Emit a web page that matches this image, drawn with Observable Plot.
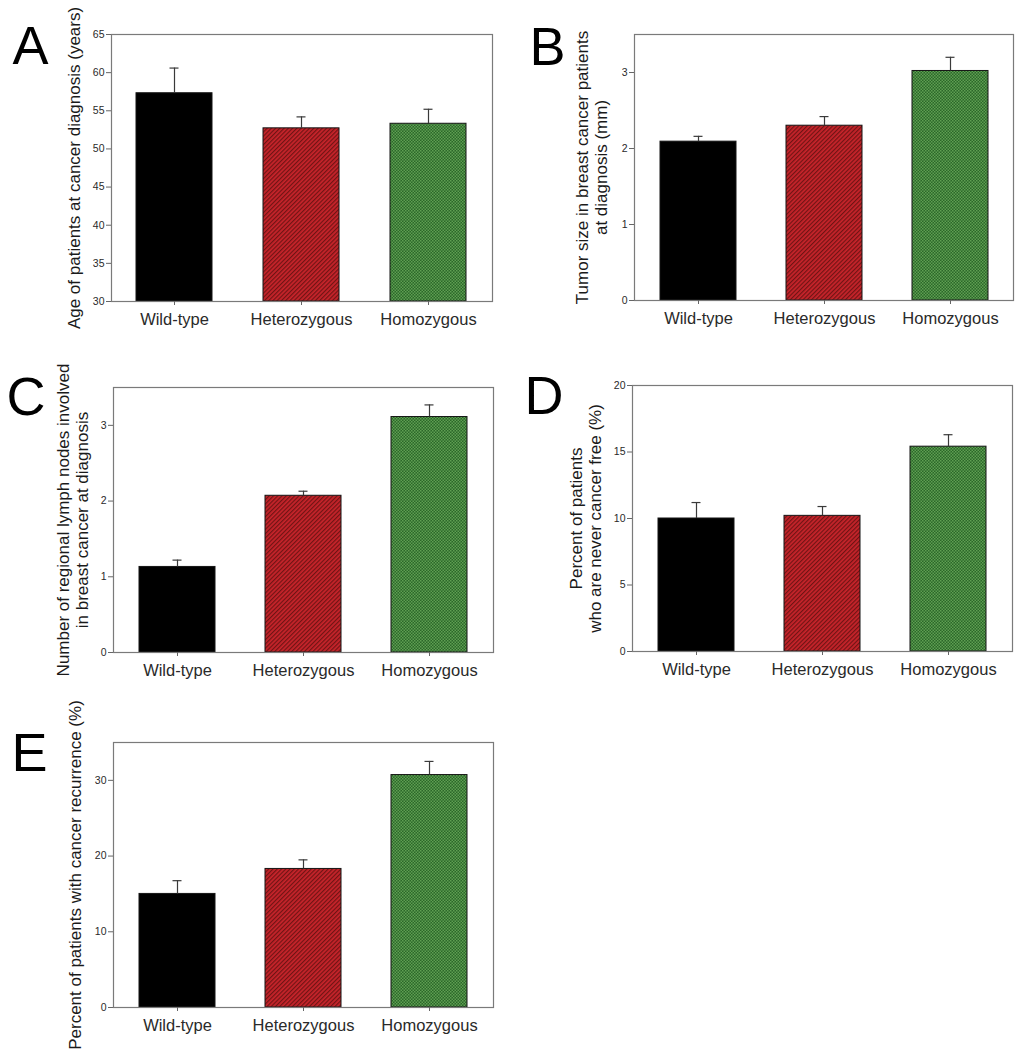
<!DOCTYPE html>
<html><head><meta charset="utf-8">
<script src="https://cdn.jsdelivr.net/npm/d3@7"></script>
<script src="https://cdn.jsdelivr.net/npm/@observablehq/plot@0.6"></script>
<style>
body{margin:0;background:#fff;font-family:"Liberation Sans",Arial,sans-serif}
#fig{position:relative;width:1016px;height:1050px;overflow:hidden}
.panel{position:absolute}
</style></head><body>
<svg width="0" height="0" style="position:absolute">
<defs>
<pattern id="hatchRed" width="3" height="3" patternUnits="userSpaceOnUse" patternTransform="rotate(45)">
<rect width="3" height="3" fill="#c8242b"/>
<rect width="1.2" height="3" fill="#701414"/>
</pattern>
<pattern id="checkGreen" width="3" height="3" patternUnits="userSpaceOnUse">
<rect width="3" height="3" fill="#2b6729"/>
<rect width="1.5" height="1.5" fill="#5f9f52"/>
<rect x="1.5" y="1.5" width="1.5" height="1.5" fill="#5f9f52"/>
</pattern>
</defs></svg>
<div id="fig"></div>
<script>
const categories = ["Wild-type", "Heterozygous", "Homozygous"];

const ageMean = [57.3, 52.7, 53.3];
const ageSem = [3.3, 1.5, 1.9];
const ageTicks = [30, 35, 40, 45, 50, 55, 60, 65];

const tumorMean = [2.09, 2.30, 3.02];
const tumorSem = [0.07, 0.12, 0.18];
const tumorTicks = [0, 1, 2, 3];

const nodesMean = [1.13, 2.07, 3.11];
const nodesSem = [0.09, 0.06, 0.16];
const nodesTicks = [0, 1, 2, 3];

const neverFreeMean = [10.0, 10.2, 15.4];
const neverFreeSem = [1.2, 0.7, 0.9];
const neverFreeTicks = [0, 5, 10, 15, 20];

const recurMean = [15.0, 18.3, 30.7];
const recurSem = [1.75, 1.2, 1.8];
const recurTicks = [0, 10, 20, 30];

const fills = ["#000000", "url(#hatchRed)", "url(#checkGreen)"];

const panels = [
  {letter: "A", mean: ageMean, sem: ageSem, domain: [30, 65], ticks: ageTicks,
   label: "Age of patients at cancer diagnosis (years)",
   pos: [0, 0], m: {top: 34, right: 16, bottom: 49, left: 111}, labelDx: -38, letterDx: -99, letterDy: 12.5},
  {letter: "B", mean: tumorMean, sem: tumorSem, domain: [0, 3.5], ticks: tumorTicks,
   label: "Tumor size in breast cancer patients\nat diagnosis (mm)",
   pos: [508, 0], m: {top: 34, right: 3, bottom: 50, left: 126}, labelDx: -43, letterDx: -105, letterDy: 13.5},
  {letter: "C", mean: nodesMean, sem: nodesSem, domain: [0, 3.5], ticks: nodesTicks,
   label: "Number of regional lymph nodes involved\nin breast cancer at diagnosis",
   pos: [0, 340], m: {top: 47, right: 15, bottom: 38, left: 113}, labelDx: -41.5, letterDx: -107, letterDy: 10.5},
  {letter: "D", mean: neverFreeMean, sem: neverFreeSem, domain: [0, 20], ticks: neverFreeTicks,
   label: "Percent of patients\nwho are never cancer free (%)",
   pos: [508, 340], m: {top: 45, right: 4, bottom: 39, left: 124}, labelDx: -47, letterDx: -108, letterDy: 11},
  {letter: "E", mean: recurMean, sem: recurSem, domain: [0, 35], ticks: recurTicks,
   label: "Percent of patients with cancer recurrence (%)",
   pos: [0, 700], m: {top: 42, right: 15, bottom: 43, left: 113}, labelDx: -39, letterDx: -102, letterDy: 11}
];

const fig = document.getElementById("fig");
for (const p of panels) {
  const rows = categories.map((c, i) => ({cat: c, mean: p.mean[i], hi: p.mean[i] + p.sem[i]}));
  const base = p.domain[0];
  const chart = Plot.plot({
    width: 508, height: 350,
    marginTop: p.m.top, marginRight: p.m.right, marginBottom: p.m.bottom, marginLeft: p.m.left,
    style: {fontFamily: '"Liberation Sans", Arial, sans-serif', color: "#2a2a2a", background: "transparent", overflow: "visible"},
    x: {type: "band", domain: categories, paddingInner: 0.4, paddingOuter: 0.2, label: null},
    y: {domain: p.domain, label: null},
    color: {domain: categories, range: fills},
    marks: [
      Plot.barY(rows, {x: "cat", y1: base, y2: "mean", fill: "cat", stroke: "#151515", strokeWidth: 1}),
      Plot.ruleX(rows, {x: "cat", y1: "mean", y2: "hi", stroke: "#3a3a3a", strokeWidth: 1.2}),
      Plot.tickY(rows, {x: "cat", y: "hi", insetLeft: 33.5, insetRight: 33.5, stroke: "#3a3a3a", strokeWidth: 1.2}),
      Plot.frame({stroke: "#7a7a7a", strokeWidth: 1.2}),
      Plot.axisY({ticks: p.ticks, tickFormat: d3.format("~g"), tickSize: 5, tickPadding: 2, fontSize: 10.5, stroke: "#666", label: null}),
      Plot.axisX({tickSize: 4, tickPadding: 8, fontSize: 16.5, stroke: "#666", label: null}),
      Plot.text([p.label], {text: d => d, frameAnchor: "left", rotate: -90, dx: p.labelDx,
        textAnchor: "middle", lineAnchor: "middle", fontSize: 17, lineHeight: 1.12, fill: "#1a1a1a"}),
      Plot.text([p.letter], {text: d => d, frameAnchor: "top-left", dx: p.letterDx, dy: p.letterDy,
        textAnchor: "start", lineAnchor: "middle", fontSize: 54, fill: "#000"})
    ]
  });
  chart.classList.add("panel");
  chart.style.left = p.pos[0] + "px";
  chart.style.top = p.pos[1] + "px";
  fig.appendChild(chart);
}
</script>
</body></html>
